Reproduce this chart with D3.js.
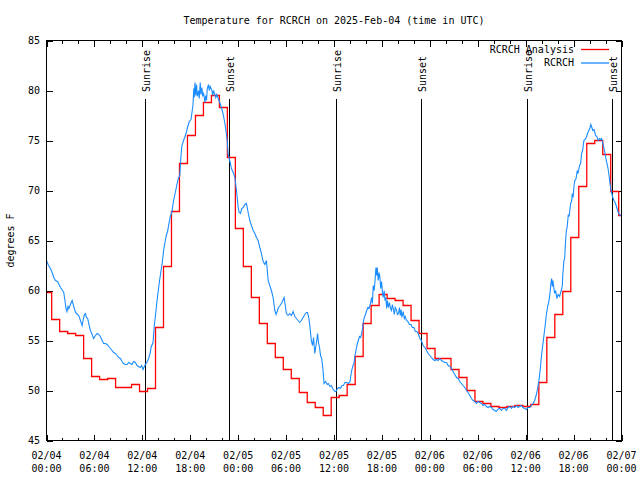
<!DOCTYPE html>
<html><head><meta charset="utf-8">
<script src="https://cdn.jsdelivr.net/npm/d3@7"></script>
<style>
body{margin:0;background:#fff}
svg{display:block}
text{font-family:"DejaVu Sans Mono","Liberation Mono",monospace;font-size:10px;fill:#000}
</style>
</head><body>
<svg id="chart" width="640" height="480"></svg>
<script>
// ---------- data (hours since 2025-02-04 00:00 UTC) ----------
const titleText = "Temperature for RCRCH on 2025-Feb-04 (time in UTC)";
const yLabelText = "degrees F";
const yTickValues = [45, 50, 55, 60, 65, 70, 75, 80, 85];
const xMajorHours = [0, 6, 12, 18, 24, 30, 36, 42, 48, 54, 60, 66, 72];
const xTickDates = ["02/04","02/04","02/04","02/04","02/05","02/05","02/05","02/05","02/06","02/06","02/06","02/06","02/07"];
const xTickTimes = ["00:00","06:00","12:00","18:00","00:00","06:00","12:00","18:00","00:00","06:00","12:00","18:00","00:00"];
const sunHours = [12.41, 22.91, 36.29, 46.96, 60.29, 70.83];
const sunLabels = ["Sunrise", "Sunset", "Sunrise", "Sunset", "Sunrise", "Sunset"];
const seriesNames = ["RCRCH Analysis", "RCRCH"];

// hourly analysis (step) values; each value starts at the listed hour
const analysisHours = [0].concat(d3.range(0.65, 72, 1));
const analysisTemps = [59.8,57.1,55.9,55.7,55.5,53.2,51.4,51.1,51.2,50.3,50.3,50.6,49.9,50.2,56.3,62.4,67.9,72.7,75.5,77.5,
  78.8,79.5,78.3,73.3,66.2,62.4,59.3,56.7,54.7,53.3,52.1,51.2,49.8,48.8,48.3,47.5,49.3,49.5,50.6,53.4,
  56.7,58.5,59.6,59.2,59.0,58.5,57.0,55.7,54.2,53.2,53.2,52.1,51.3,50.0,48.9,48.7,48.4,48.3,48.4,48.5,
  48.4,48.6,50.8,55.3,57.6,59.9,65.3,70.4,74.7,75.0,73.6,69.9,67.5];
const analysisEndHour = 72;

// station observations [hour, temp F]
const stationObs = [
[0.00,63.0],[0.25,62.5],[0.50,62.2],[0.75,61.7],[0.91,61.3],[1.13,61.0],[1.38,60.9],[1.75,60.3],[2.00,60.0],[2.16,59.8],
[2.31,59.0],[2.44,58.2],[2.56,57.9],[2.69,58.4],[2.79,58.2],[3.00,58.6],[3.21,59.0],[3.38,58.5],[3.63,57.8],[3.88,57.6],
[4.04,57.5],[4.25,57.0],[4.46,56.5],[4.63,57.2],[4.75,57.6],[4.88,57.7],[5.00,57.3],[5.16,57.2],[5.31,56.6],[5.50,56.0],
[5.71,55.6],[5.91,55.2],[6.13,55.5],[6.34,55.7],[6.54,55.6],[6.75,55.4],[6.96,55.0],[7.16,54.7],[7.38,54.7],[7.59,54.6],
[7.79,54.4],[8.00,54.2],[8.21,54.0],[8.41,53.8],[8.63,53.7],[8.84,53.5],[9.04,53.3],[9.25,53.2],[9.46,52.9],[9.66,52.7],
[9.88,52.6],[10.09,52.6],[10.29,52.8],[10.50,52.7],[10.71,52.6],[10.91,52.9],[11.13,52.8],[11.34,52.5],[11.54,52.4],[11.75,52.3],
[11.91,52.5],[12.09,52.1],[12.25,52.4],[12.38,52.6],[12.56,52.8],[12.79,53.2],[13.00,53.8],[13.09,54.3],[13.34,54.8],[13.50,56.5],
[13.69,57.8],[13.84,59.0],[14.00,60.0],[14.16,61.0],[14.34,62.0],[14.50,62.8],[14.66,64.0],[14.81,64.7],[15.00,65.5],[15.16,65.9],
[15.31,66.6],[15.50,67.4],[15.69,67.8],[15.91,69.0],[16.13,69.8],[16.31,70.5],[16.50,71.2],[16.69,71.5],[16.84,73.5],[16.96,74.5],
[17.16,75.0],[17.31,75.3],[17.50,75.8],[17.66,76.3],[17.88,76.9],[18.09,77.1],[18.25,78.0],[18.34,78.5],[18.44,80.2],[18.50,79.3],
[18.59,80.8],[18.69,79.5],[18.79,80.6],[18.88,79.4],[19.04,80.0],[19.13,79.2],[19.25,80.8],[19.34,79.6],[19.46,80.3],[19.56,79.4],
[19.66,79.8],[19.84,78.8],[19.94,79.5],[20.04,79.0],[20.13,80.2],[20.29,80.6],[20.38,80.0],[20.50,80.4],[20.71,80.0],[20.81,79.5],
[20.91,80.0],[21.09,79.6],[21.19,79.3],[21.31,79.6],[21.50,79.2],[21.69,78.8],[21.91,78.3],[22.13,77.6],[22.34,76.7],[22.50,75.8],
[22.63,75.0],[22.75,73.6],[22.84,73.3],[22.94,73.0],[23.16,72.2],[23.38,71.8],[23.59,71.3],[23.79,70.0],[24.00,68.3],[24.13,67.8],
[24.29,67.7],[24.44,68.2],[24.63,68.3],[24.84,68.6],[25.04,68.7],[25.25,67.8],[25.46,67.0],[25.66,66.5],[25.88,66.0],[26.09,65.7],
[26.29,65.3],[26.50,65.0],[26.71,64.3],[26.91,63.7],[27.13,62.9],[27.34,62.6],[27.54,63.0],[27.65,62.0],[27.75,61.0],[27.96,60.5],
[28.16,60.0],[28.38,59.3],[28.59,58.0],[28.75,57.6],[28.88,57.9],[29.04,58.3],[29.25,58.5],[29.41,58.7],[29.59,59.0],[29.75,59.3],
[29.88,58.6],[30.04,57.7],[30.25,57.5],[30.46,57.7],[30.66,57.5],[30.88,57.9],[31.09,57.4],[31.29,57.2],[31.50,57.0],[31.71,56.8],
[31.91,57.0],[32.13,57.3],[32.34,57.6],[32.54,57.8],[32.69,57.8],[32.84,57.3],[33.00,56.3],[33.16,55.0],[33.31,54.5],[33.44,55.3],
[33.59,53.7],[33.69,54.2],[33.84,55.0],[33.94,55.7],[34.06,54.8],[34.21,54.2],[34.31,53.5],[34.46,53.2],[34.63,52.0],[34.75,50.7],
[34.94,50.9],[35.13,50.6],[35.29,50.7],[35.50,50.4],[35.66,50.5],[35.84,50.2],[36.00,50.0],[36.13,49.9],[36.25,49.9],[36.44,50.2],
[36.63,50.3],[36.81,50.2],[37.00,50.5],[37.16,50.5],[37.38,50.8],[37.59,50.8],[37.79,50.7],[38.00,50.9],[38.21,52.0],[38.38,52.5],
[38.50,52.7],[38.63,53.5],[38.75,54.0],[38.90,54.6],[39.04,55.0],[39.19,55.4],[39.34,55.3],[39.54,56.0],[39.66,56.8],[39.79,57.3],
[39.94,57.6],[40.09,58.0],[40.25,58.3],[40.38,58.2],[40.54,58.6],[40.71,59.3],[40.81,58.7],[40.91,60.5],[41.04,60.0],[41.16,61.2],
[41.25,62.3],[41.34,61.5],[41.41,62.3],[41.54,61.0],[41.65,61.8],[41.75,61.3],[41.85,60.2],[41.96,60.9],[42.06,59.8],[42.16,59.3],
[42.28,60.0],[42.38,59.0],[42.50,59.3],[42.59,58.2],[42.69,59.0],[42.81,58.3],[42.94,58.8],[43.04,58.3],[43.19,58.0],[43.31,58.6],
[43.41,58.2],[43.56,57.6],[43.66,58.3],[43.84,58.0],[43.94,57.6],[44.09,57.7],[44.19,58.3],[44.31,57.5],[44.41,58.1],[44.50,57.3],
[44.66,57.9],[44.81,57.2],[44.91,57.4],[45.09,57.0],[45.25,56.9],[45.44,56.6],[45.63,56.6],[45.81,56.3],[46.00,56.3],[46.19,55.9],
[46.38,55.9],[46.59,55.6],[46.75,55.2],[46.94,55.0],[47.16,54.5],[47.38,54.3],[47.59,54.0],[47.79,53.7],[48.00,53.5],[48.21,53.3],
[48.41,53.1],[48.63,53.0],[48.84,53.1],[49.04,53.0],[49.25,53.2],[49.46,53.0],[49.66,52.9],[49.88,52.8],[50.09,52.8],[50.29,52.5],
[50.50,52.4],[50.71,52.2],[50.91,51.9],[51.13,51.6],[51.34,51.3],[51.54,51.2],[51.75,50.9],[51.96,50.7],[52.16,50.5],[52.38,50.3],
[52.59,50.0],[52.79,49.8],[53.00,49.5],[53.21,49.2],[53.41,49.0],[53.63,48.9],[53.84,48.7],[54.04,48.9],[54.25,48.8],[54.46,48.7],
[54.66,48.5],[54.88,48.6],[55.09,48.4],[55.29,48.3],[55.50,48.4],[55.71,48.3],[55.91,48.1],[56.13,48.0],[56.31,47.9],[56.50,48.1],
[56.75,48.2],[56.96,48.0],[57.16,48.2],[57.38,48.2],[57.59,48.0],[57.79,48.3],[58.00,48.4],[58.21,48.2],[58.41,48.4],[58.63,48.3],
[58.84,48.5],[59.04,48.3],[59.25,48.4],[59.46,48.5],[59.66,48.3],[59.88,48.2],[60.09,48.1],[60.29,48.3],[60.50,48.3],[60.71,48.5],
[60.91,48.7],[61.13,49.0],[61.34,49.6],[61.50,50.2],[61.66,51.0],[61.81,52.0],[61.96,53.3],[62.13,54.5],[62.29,55.5],[62.44,56.5],
[62.59,57.6],[62.75,58.4],[62.91,58.9],[63.06,59.8],[63.16,60.7],[63.25,61.2],[63.34,60.4],[63.41,61.0],[63.54,60.2],[63.63,59.7],
[63.75,60.0],[63.91,59.2],[64.06,59.6],[64.25,59.4],[64.38,59.8],[64.46,60.0],[64.59,60.5],[64.66,61.7],[64.79,63.0],[64.88,63.2],
[65.00,65.0],[65.09,66.0],[65.19,66.3],[65.34,67.6],[65.44,67.4],[65.63,68.7],[65.75,68.9],[65.84,69.7],[65.94,69.3],[66.06,70.5],
[66.16,71.0],[66.31,71.2],[66.46,72.0],[66.56,71.7],[66.75,72.5],[66.88,72.7],[67.00,73.7],[67.13,74.0],[67.29,75.0],[67.44,75.1],
[67.59,75.3],[67.75,75.7],[67.91,76.0],[68.04,76.2],[68.16,76.6],[68.29,76.3],[68.41,76.0],[68.56,76.1],[68.75,75.5],[68.91,75.4],
[69.09,75.0],[69.25,75.2],[69.38,75.1],[69.50,75.2],[69.63,74.8],[69.79,74.3],[69.94,73.7],[70.09,73.0],[70.25,72.5],[70.41,71.7],
[70.54,70.8],[70.63,70.3],[70.75,69.8],[70.91,69.3],[71.06,69.0],[71.25,68.7],[71.41,68.3],[71.59,67.8],[71.75,67.6],[71.91,67.5]
];

// ---------- layout ----------
const W = 640, H = 480;
const L = 46.5, R = 621.5, T = 40.5, B = 440.5;
const colors = {analysis: "#ff0000", station: "#1a8cff"};

const svg = d3.select("#chart");
svg.append("rect").attr("width", W).attr("height", H).attr("fill", "#fff");

const x = d3.scaleLinear().domain([0, 72]).range([L, R]);
const y = d3.scaleLinear().domain([45, 85]).range([B, T]);

svg.append("defs").append("clipPath").attr("id", "plotclip")
  .append("rect").attr("x", L).attr("y", T).attr("width", R - L).attr("height", B - T);

// title
svg.append("text").attr("x", (L + R) / 2).attr("y", 24).attr("text-anchor", "middle").text(titleText);

// y label
svg.append("text").attr("transform", `translate(14,${(T + B) / 2}) rotate(-90)`)
  .attr("text-anchor", "middle").text(yLabelText);

// axes ticks (inward, mirrored)
const minorHours = d3.range(0, 73, 2).filter(h => h % 6 !== 0);
function styleAxis(g) { g.select(".domain").remove(); g.selectAll("line").attr("stroke", "#000").attr("shape-rendering", "crispEdges"); }

svg.append("g").attr("transform", `translate(0,${B})`)
  .call(d3.axisBottom(x).tickValues(xMajorHours).tickSize(-6).tickFormat("")).call(styleAxis);
svg.append("g").attr("transform", `translate(0,${B})`)
  .call(d3.axisBottom(x).tickValues(minorHours).tickSize(-3).tickFormat("")).call(styleAxis);
svg.append("g").attr("transform", `translate(0,${T})`)
  .call(d3.axisTop(x).tickValues(xMajorHours).tickSize(-6).tickFormat("")).call(styleAxis);
svg.append("g").attr("transform", `translate(0,${T})`)
  .call(d3.axisTop(x).tickValues(minorHours).tickSize(-3).tickFormat("")).call(styleAxis);
svg.append("g").attr("transform", `translate(${L},0)`)
  .call(d3.axisLeft(y).tickValues(yTickValues).tickSize(-6).tickFormat("")).call(styleAxis);
svg.append("g").attr("transform", `translate(${R},0)`)
  .call(d3.axisRight(y).tickValues(yTickValues).tickSize(-6).tickFormat("")).call(styleAxis);

// y tick labels
svg.append("g").selectAll("text").data(yTickValues).join("text")
  .attr("x", 40).attr("y", d => y(d)).attr("dy", "0.35em").attr("text-anchor", "end").text(d => d);

// x tick labels (two lines)
const xl = svg.append("g").selectAll("text").data(xMajorHours).join("text")
  .attr("text-anchor", "middle");
xl.append("tspan").attr("x", d => x(d)).attr("y", 459).text((d, i) => xTickDates[i]);
xl.append("tspan").attr("x", d => x(d)).attr("y", 472).text((d, i) => xTickTimes[i]);

// sunrise / sunset markers
const sun = svg.append("g");
sun.selectAll("line").data(sunHours).join("line")
  .attr("x1", d => Math.floor(x(d)) + 0.5).attr("x2", d => Math.floor(x(d)) + 0.5)
  .attr("y1", 99).attr("y2", B).attr("stroke", "#000").attr("shape-rendering", "crispEdges");
sun.selectAll("text").data(sunHours).join("text")
  .attr("transform", d => `translate(${Math.floor(x(d)) + 5},92) rotate(-90)`)
  .attr("text-anchor", "start").text((d, i) => sunLabels[i]);

// series
const plot = svg.append("g").attr("clip-path", "url(#plotclip)");
const analysisPts = analysisHours.map((h, i) => [h, analysisTemps[i]]);
analysisPts.push([analysisEndHour, analysisTemps[analysisTemps.length - 1]]);
const stepLine = d3.line().x(d => x(d[0])).y(d => y(d[1])).curve(d3.curveStepAfter);
const obsLine = d3.line().x(d => x(d[0])).y(d => y(d[1]));

plot.append("path").attr("d", stepLine(analysisPts)).attr("fill", "none")
  .attr("stroke", colors.analysis).attr("stroke-width", 1.3);
plot.append("path").attr("d", obsLine(stationObs)).attr("fill", "none")
  .attr("stroke", colors.station).attr("stroke-width", 1.1);

// frame
svg.append("rect").attr("x", L).attr("y", T).attr("width", R - L).attr("height", B - T)
  .attr("fill", "none").attr("stroke", "#000").attr("shape-rendering", "crispEdges");

// legend
const lg = svg.append("g");
const legendColors = [colors.analysis, colors.station];
seriesNames.forEach((name, i) => {
  const yy = 49 + i * 13.5;
  lg.append("text").attr("x", 574).attr("y", yy).attr("dy", "0.35em").attr("text-anchor", "end").text(name);
  lg.append("line").attr("x1", 581).attr("x2", 609).attr("y1", yy + 0.5).attr("y2", yy + 0.5)
    .attr("stroke", legendColors[i]).attr("stroke-width", 1.3);
});
</script>
</body></html>
